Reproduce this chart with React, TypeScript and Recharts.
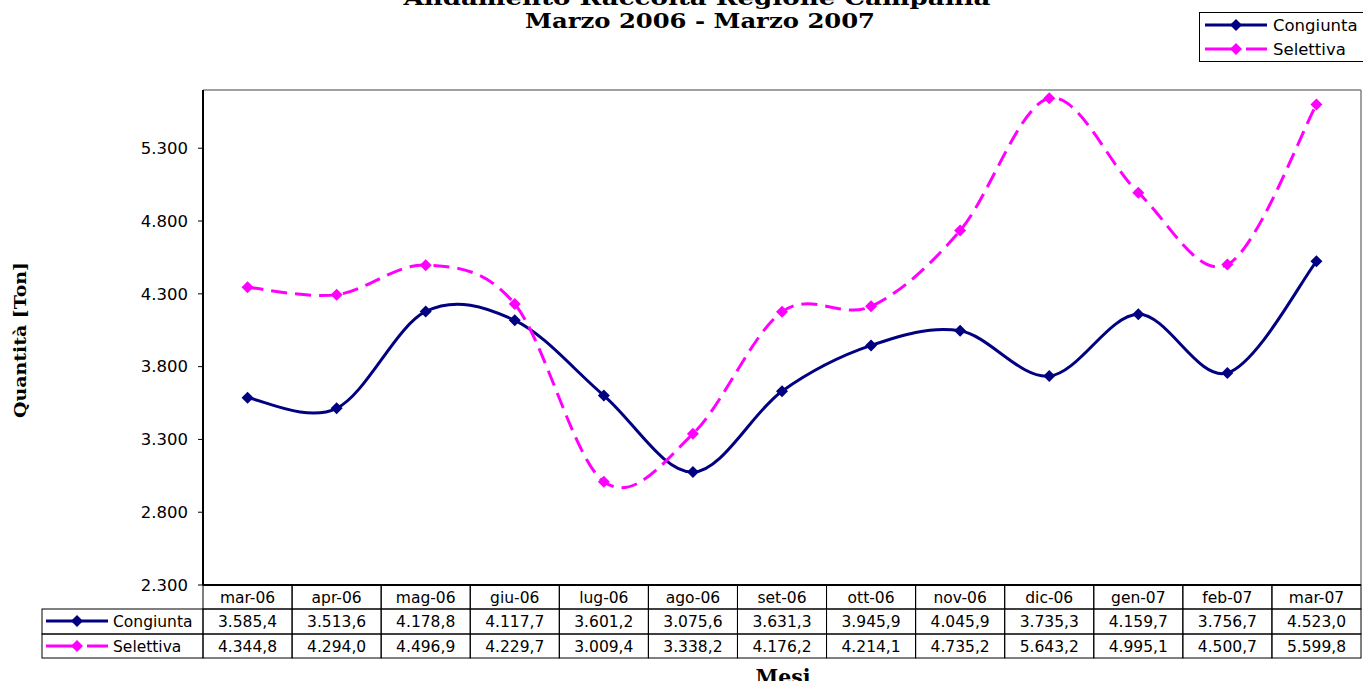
import React from "react";
import { LineChart, Line, XAxis, YAxis, CartesianGrid } from "recharts";

const months = [
  "mar-06", "apr-06", "mag-06", "giu-06", "lug-06", "ago-06", "set-06",
  "ott-06", "nov-06", "dic-06", "gen-07", "feb-07", "mar-07",
];
const congiunta = [
  3585.4, 3513.6, 4178.8, 4117.7, 3601.2, 3075.6, 3631.3,
  3945.9, 4045.9, 3735.3, 4159.7, 3756.7, 4523.0,
];
const selettiva = [
  4344.8, 4294.0, 4496.9, 4229.7, 3009.4, 3338.2, 4176.2,
  4214.1, 4735.2, 5643.2, 4995.1, 4500.7, 5599.8,
];
const yTicks = [2300, 2800, 3300, 3800, 4300, 4800, 5300];

const NAVY = "#000080";
const MAGENTA = "#FF00FF";
const SANS = "'DejaVu Sans', Arial, sans-serif";
const SERIF = "'DejaVu Serif', 'Liberation Serif', serif";

const W = 1363;
const H = 681;
const PLOT_L = 203;
const PLOT_R = 1361;
const PLOT_T = 90;
const BAND = (PLOT_R - PLOT_L) / months.length;

const data = months.map((m, i) => ({
  month: m,
  congiunta: congiunta[i],
  selettiva: selettiva[i],
}));

// italian number format: 3.585,4
const fmt = (n: number, dec: number) => {
  const [int, frac] = n.toFixed(dec).split(".");
  const grouped = int.replace(/\B(?=(\d{3})+(?!\d))/g, ".");
  return frac ? `${grouped},${frac}` : grouped;
};

// Excel-like smoothing (Catmull-Rom as cubic bezier)
const excelSmooth = (context: any) => {
  let pts: number[][] = [];
  return {
    areaStart() {},
    areaEnd() {},
    lineStart() {
      pts = [];
    },
    point(x: number, y: number) {
      pts.push([+x, +y]);
    },
    lineEnd() {
      if (!pts.length) return;
      context.moveTo(pts[0][0], pts[0][1]);
      for (let i = 0; i < pts.length - 1; i++) {
        const p0 = pts[i - 1] || pts[i];
        const p1 = pts[i];
        const p2 = pts[i + 1];
        const p3 = pts[i + 2] || p2;
        context.bezierCurveTo(
          p1[0] + (p2[0] - p0[0]) / 6,
          p1[1] + (p2[1] - p0[1]) / 6,
          p2[0] - (p3[0] - p1[0]) / 6,
          p2[1] - (p3[1] - p1[1]) / 6,
          p2[0],
          p2[1]
        );
      }
    },
  };
};

const Diamond = ({ cx, cy, color, r = 6 }: any) => (
  <polygon
    points={`${cx},${cy - r} ${cx + r},${cy} ${cx},${cy + r} ${cx - r},${cy}`}
    fill={color}
    stroke="none"
  />
);

const makeDot = (color: string) => (props: any) => {
  const { cx, cy, index } = props;
  if (cx == null || cy == null) return <g key={`d-${index}`} />;
  return <Diamond key={`d-${color}-${index}`} cx={cx} cy={cy} color={color} />;
};

// legend sample line + marker
const Sample = ({ x, y, color, dashed }: any) => (
  <g>
    {dashed ? (
      <>
        <line x1={x} y1={y} x2={x + 34} y2={y} stroke={color} strokeWidth={3} />
        <line x1={x + 41} y1={y} x2={x + 62} y2={y} stroke={color} strokeWidth={3} />
      </>
    ) : (
      <line x1={x} y1={y} x2={x + 62} y2={y} stroke={color} strokeWidth={3} />
    )}
    <Diamond cx={x + 31} cy={y} color={color} />
  </g>
);

// x axis tick draws the data table column
const TableTick = (props: any) => {
  const { x, y, payload, index } = props;
  const i = payload?.index ?? index;
  const left = x - BAND / 2;
  const rows = [
    { top: y, h: 24, text: months[i] },
    { top: y + 24, h: 25, text: fmt(congiunta[i], 1) },
    { top: y + 49, h: 24, text: fmt(selettiva[i], 1) },
  ];
  return (
    <g>
      {rows.map((r, k) => (
        <g key={k}>
          <rect x={left} y={r.top} width={BAND} height={r.h} fill="none" stroke="#000" strokeWidth={1} />
          <text x={x} y={r.top + r.h / 2 + 5.5} textAnchor="middle" fontFamily={SANS} fontSize={15.5} fill="#000">
            {r.text}
          </text>
        </g>
      ))}
      {i === 0 && (
        <g>
          <rect x={42} y={y + 24} width={left - 42} height={25} fill="none" stroke="#000" strokeWidth={1} />
          <rect x={42} y={y + 49} width={left - 42} height={24} fill="none" stroke="#000" strokeWidth={1} />
          <Sample x={46} y={y + 36} color={NAVY} />
          <text x={113} y={y + 42} fontFamily={SANS} fontSize={15.5} fill="#000">Congiunta</text>
          <Sample x={46} y={y + 61} color={MAGENTA} dashed />
          <text x={113} y={y + 67} fontFamily={SANS} fontSize={15.5} fill="#000">Selettiva</text>
        </g>
      )}
    </g>
  );
};

export default function App() {
  return (
    <div style={{ position: "absolute", left: 0, top: 0, width: W, height: H, background: "#fff", overflow: "hidden" }}>
      <LineChart
        width={W}
        height={H}
        data={data}
        margin={{ top: PLOT_T, right: W - PLOT_R, bottom: 0, left: 0 }}
      >
        {/* grey plot-area frame, top and right */}
        <CartesianGrid
          stroke="#808080"
          strokeWidth={1.5}
          horizontalPoints={[PLOT_T]}
          verticalPoints={[PLOT_R]}
        />
        <XAxis
          dataKey="month"
          height={96}
          padding={{ left: BAND / 2, right: BAND / 2 }}
          tickLine={false}
          tickSize={0}
          tickMargin={0}
          interval={0}
          axisLine={{ stroke: "#000", strokeWidth: 2 }}
          tick={<TableTick />}
        />
        <YAxis
          width={PLOT_L}
          domain={[2300, 5700]}
          ticks={yTicks}
          allowDataOverflow
          tickSize={5}
          tickMargin={10}
          axisLine={{ stroke: "#000", strokeWidth: 2 }}
          tickLine={{ stroke: "#000" }}
          tick={{ fill: "#000", fontFamily: SANS, fontSize: 16.5 }}
          tickFormatter={(v: number) => fmt(v, 0)}
        />
        <Line
          dataKey="congiunta"
          type={excelSmooth as any}
          stroke={NAVY}
          strokeWidth={3}
          dot={makeDot(NAVY)}
          activeDot={false}
          isAnimationActive={false}
        />
        <Line
          dataKey="selettiva"
          type={excelSmooth as any}
          stroke={MAGENTA}
          strokeWidth={3}
          strokeDasharray="16 8"
          dot={makeDot(MAGENTA)}
          activeDot={false}
          isAnimationActive={false}
        />
      </LineChart>

      <svg width={W} height={H} style={{ position: "absolute", left: 0, top: 0, pointerEvents: "none" }}>
        <text x={697} y={5} textAnchor="middle" fontFamily={SERIF} fontWeight="bold" fontSize={21} fill="#000" textLength={587} lengthAdjust="spacingAndGlyphs">
          Andamento Raccolta Regione Campania
        </text>
        <text x={700} y={28} textAnchor="middle" fontFamily={SERIF} fontWeight="bold" fontSize={21} fill="#000" textLength={350} lengthAdjust="spacingAndGlyphs">
          Marzo 2006 - Marzo 2007
        </text>
        <text
          transform="translate(26,340) rotate(-90)"
          textAnchor="middle"
          fontFamily={SERIF}
          fontWeight="bold"
          fontSize={17}
          fill="#000"
          textLength={156}
          lengthAdjust="spacingAndGlyphs"
        >
          Quantità [Ton]
        </text>
        <text x={783} y={684} textAnchor="middle" fontFamily={SERIF} fontWeight="bold" fontSize={20} fill="#000" textLength={55} lengthAdjust="spacingAndGlyphs">
          Mesi
        </text>
        <rect x={1199.5} y={12.5} width={170} height={49} fill="#fff" stroke="#000" strokeWidth={1} />
        <Sample x={1205} y={25} color={NAVY} />
        <text x={1273} y={30.5} fontFamily={SANS} fontSize={16.5} fill="#000">Congiunta</text>
        <Sample x={1205} y={49} color={MAGENTA} dashed />
        <text x={1273} y={54.5} fontFamily={SANS} fontSize={16.5} fill="#000">Selettiva</text>
      </svg>
    </div>
  );
}
